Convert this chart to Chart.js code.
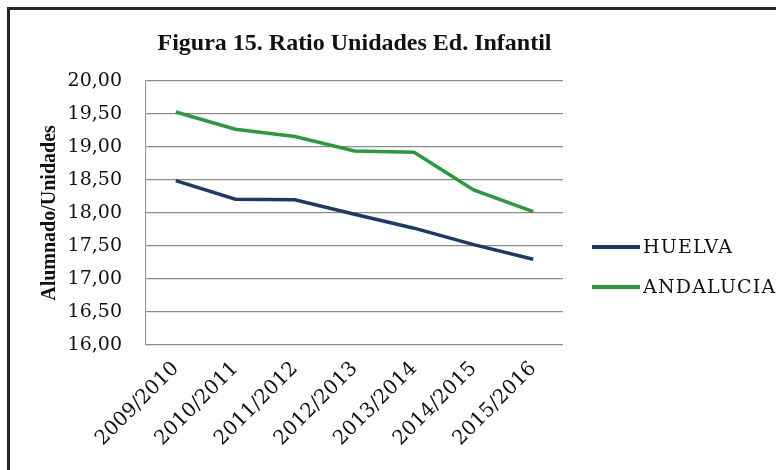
<!DOCTYPE html>
<html>
<head>
<meta charset="utf-8">
<script src="https://cdn.jsdelivr.net/npm/chart.js@4"></script>
<style>
  html, body { margin: 0; padding: 0; background: #fff; }
  #wrap { position: relative; width: 776px; height: 470px; }
  #frame {
    position: absolute; left: 7px; top: 7px; right: 0; bottom: 0;
    border-top: 3px solid #262626; border-left: 3px solid #262626;
    pointer-events: none;
  }
</style>
</head>
<body>
<div id="wrap">
  <canvas id="ratioChart" width="776" height="470"></canvas>
  <div id="frame"></div>
</div>
<script>
const seasons = ['2009/2010', '2010/2011', '2011/2012', '2012/2013', '2013/2014', '2014/2015', '2015/2016'];
const huelva = [18.49, 18.21, 18.20, 17.98, 17.77, 17.52, 17.30];
const andalucia = [19.53, 19.27, 19.16, 18.94, 18.92, 18.35, 18.02];
const yTicks = [16, 16.5, 17, 17.5, 18, 18.5, 19, 19.5, 20];
const chartTitle = 'Figura 15. Ratio Unidades Ed. Infantil';
const yTitle = 'Alumnado/Unidades';

// title centred over the plot area + legend at the right (like the Excel original)
const extrasPlugin = {
    id: 'extras',
    afterDraw(chart) {
        const ctx = chart.ctx;
        const area = chart.chartArea;
        ctx.save();
        ctx.fillStyle = '#111';
        ctx.font = 'bold 24px "Liberation Serif"';
        ctx.textAlign = 'center';
        ctx.textBaseline = 'middle';
        ctx.fillText(chartTitle, (area.left + area.right) / 2, 44);

        const rows = [247, 287];
        ctx.font = '19px "DejaVu Serif"';
        ctx.letterSpacing = '1.2px';
        ctx.textAlign = 'left';
        chart.data.datasets.forEach((ds, i) => {
            ctx.strokeStyle = ds.borderColor;
            ctx.lineWidth = 4;
            ctx.beginPath();
            ctx.moveTo(592, rows[i]);
            ctx.lineTo(640, rows[i]);
            ctx.stroke();
            ctx.fillStyle = '#111';
            ctx.fillText(ds.label, 643, rows[i] + 1);
        });
        ctx.restore();
    }
};

const ctx = document.getElementById('ratioChart').getContext('2d');
new Chart(ctx, {
    type: 'line',
    data: {
        labels: seasons,
        datasets: [
            {
                label: 'HUELVA',
                data: huelva,
                borderColor: '#1b3b66',
                borderWidth: 3.5,
                pointRadius: 0,
                tension: 0
            },
            {
                label: 'ANDALUCIA',
                data: andalucia,
                borderColor: '#2a9a3e',
                borderWidth: 3.5,
                pointRadius: 0,
                tension: 0
            }
        ]
    },
    options: {
        responsive: false,
        animation: false,
        layout: { padding: { top: 81, right: 213, bottom: 0, left: 0 } },
        plugins: {
            legend: { display: false },
            title: { display: false },
            tooltip: { enabled: false }
        },
        scales: {
            x: {
                offset: true,
                grid: { display: false },
                border: { display: false },
                ticks: {
                    color: '#111',
                    font: { family: 'DejaVu Serif', size: 20 },
                    minRotation: 45,
                    maxRotation: 45,
                    padding: 4
                },
                afterFit(scale) { scale.height = 125; }
            },
            y: {
                min: 16,
                max: 20,
                afterBuildTicks(scale) { scale.ticks = yTicks.map(v => ({ value: v })); },
                grid: { color: '#8c8c8c', lineWidth: 1.2, drawTicks: false },
                border: { display: true, color: '#a0a0a0', width: 1.2 },
                ticks: {
                    color: '#111',
                    font: { family: 'DejaVu Serif', size: 19 },
                    padding: 24,
                    callback: v => v.toFixed(2).replace('.', ',')
                },
                title: {
                    display: true,
                    text: yTitle,
                    color: '#111',
                    font: { family: 'Liberation Serif', size: 20, weight: 'bold' },
                    padding: { top: 38, bottom: 0 }
                },
                afterFit(scale) { scale.width = 146; }
            }
        }
    },
    plugins: [extrasPlugin]
});
</script>
</body>
</html>
